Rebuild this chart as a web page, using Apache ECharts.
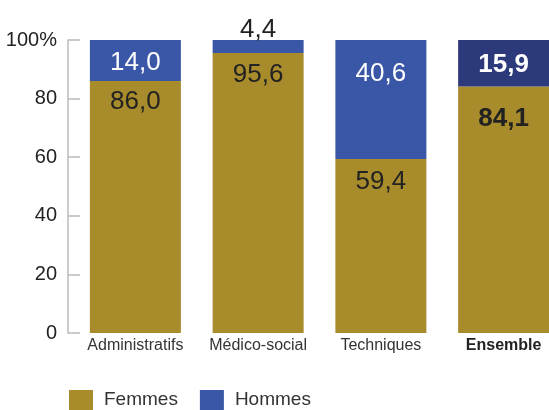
<!DOCTYPE html>
<html>
<head>
<meta charset="utf-8">
<script src="https://cdn.jsdelivr.net/npm/echarts@6/dist/echarts.min.js"></script>
<style>html,body{margin:0;padding:0;background:#fff}#c{width:549px;height:410px}</style>
</head>
<body>
<div id="c"></div>
<script>
const categories = ['Administratifs', 'Médico-social', 'Techniques', 'Ensemble'];
const femmes = [86.0, 95.6, 59.4, 84.1];
const hommes = [14.0, 4.4, 40.6, 15.9];
const yTicks = [0, 20, 40, 60, 80, 100];

const GOLD = '#A88B2B', BLUE = '#3A56A6', NAVY = '#2C3A7C';
const FONT = '"Liberation Sans", Arial, sans-serif';
const fmt = v => v.toFixed(1).replace('.', ',');

const femDist = [8, 9, 10, 19];
const homDist = [10, -3, 21, 12];

const femData = femmes.map((v, i) => ({
  value: v,
  label: { distance: femDist[i], fontWeight: i === 3 ? 'bold' : 'normal' }
}));
const homData = hommes.map((v, i) => {
  const o = {
    value: v,
    label: { distance: homDist[i], fontWeight: i === 3 ? 'bold' : 'normal' }
  };
  if (i === 1) { o.label.position = 'top'; o.label.color = '#222'; }
  if (i === 3) { o.itemStyle = { color: NAVY }; }
  return o;
});

const chart = echarts.init(document.getElementById('c'), null, { renderer: 'canvas' });
chart.setOption({
  animation: false,
  backgroundColor: '#fff',
  grid: { left: 74, width: 491, top: 40, bottom: 77, containLabel: false, outerBoundsMode: 'none' },
  legend: {
    left: 69, top: 390, padding: 0, itemWidth: 24, itemHeight: 20, itemGap: 22,
    icon: 'rect',
    textStyle: { fontFamily: FONT, fontSize: 19, color: '#333', padding: [8, 0, 0, 6] },
    data: ['Femmes', 'Hommes']
  },
  xAxis: {
    type: 'category', data: categories,
    axisLine: { show: false }, axisTick: { show: false },
    axisLabel: {
      interval: 0, margin: 5, fontFamily: FONT, fontSize: 16, color: '#333',
      formatter: (v) => v === 'Ensemble' ? '{b|' + v + '}' : v,
      rich: { b: { fontFamily: FONT, fontSize: 16, fontWeight: 'bold', color: '#222' } }
    }
  },
  yAxis: {
    type: 'value', min: 0, max: 100, interval: 20, offset: 6,
    axisLine: { show: true, lineStyle: { color: '#bbb', width: 1.5 } },
    axisTick: { show: true, inside: true, length: 12, lineStyle: { color: '#bbb', width: 1.5 } },
    splitLine: { show: false },
    axisLabel: {
      margin: 11, fontFamily: FONT, fontSize: 20, color: '#222',
      formatter: v => yTicks.includes(v) ? (v === 100 ? '100%' : String(v)) : ''
    }
  },
  series: [
    {
      name: 'Femmes', type: 'bar', stack: 'a', barWidth: 91, data: femData,
      itemStyle: { color: GOLD },
      label: { show: true, position: 'insideTop', fontFamily: FONT, fontSize: 26, color: '#222',
        formatter: p => fmt(p.value) }
    },
    {
      name: 'Hommes', type: 'bar', stack: 'a', barWidth: 91, data: homData,
      itemStyle: { color: BLUE },
      label: { show: true, position: 'insideTop', fontFamily: FONT, fontSize: 26, color: '#fff',
        formatter: p => fmt(p.value) }
    }
  ]
});
</script>
</body>
</html>
